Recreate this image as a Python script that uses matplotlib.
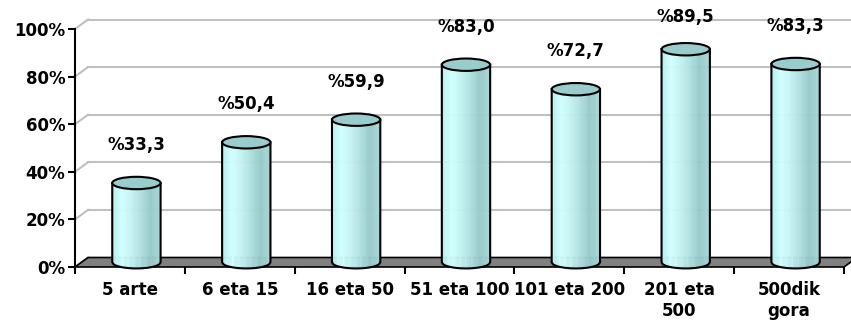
import numpy as np
import matplotlib
matplotlib.use("Agg")
import matplotlib.pyplot as plt
from matplotlib.transforms import Affine2D
from matplotlib.patches import Polygon, Ellipse
from matplotlib.colors import LinearSegmentedColormap

categories = ["5 arte", "6 eta 15", "16 eta 50", "51 eta 100", "101 eta 200", "201 eta\n500", "500dik\ngora"]
values = [33.3, 50.4, 59.9, 83.0, 72.7, 89.5, 83.3]
yticks = [0, 20, 40, 60, 80, 100]

plt.rcParams['font.family'] = ['DejaVu Sans']
fig = plt.figure(figsize=(8.51, 3.22), dpi=100)
ax = fig.add_axes([75/851, 55/322, 769/851, 238/322])
n = len(categories)
ax.set_xlim(0, n)
ax.set_ylim(0, 100)

DX, DY = 13.0, 9.5  # depth offset in pixels
full = ax.transData + Affine2D().translate(DX, DY)
mid = ax.transData + Affine2D().translate(DX / 2, DY / 2)

# back wall gridlines
for t in yticks:
    p0 = ax.transData.transform((0, t))
    ax.plot([p0[0], p0[0] + DX], [p0[1], p0[1] + DY], color="#C0C0C0", lw=1.5,
            transform=None, clip_on=False, zorder=1)
    ax.plot([0, n], [t, t], color="#C0C0C0", lw=1.5, transform=full,
            clip_on=False, zorder=1)

# floor
front = ax.transData.transform([(0, 0), (n, 0)])
floor_pts = [front[0], front[1], front[1] + [DX, DY], front[0] + [DX, DY]]
floor = Polygon(floor_pts, closed=True, facecolor="#808080", edgecolor="black",
                lw=1.2, transform=None, clip_on=False, zorder=2)
ax.add_patch(floor)

# cylinders
cmap = LinearSegmentedColormap.from_list(
    "cyl", ["#B8EEEE", "#D2FFFF", "#C4F2F2", "#B0E0E0", "#98CACA", "#A6D6D6"])
bw = 0.44
eh = 5.2  # ellipse height in data units
nstrip = 40
for i, v in enumerate(values):
    xc = i + 0.5
    xl, xr = xc - bw / 2, xc + bw / 2
    xs = np.linspace(xl, xr, nstrip + 1)
    yb = -eh / 2 * np.sqrt(np.clip(1 - ((xs - xc) / (bw / 2)) ** 2, 0, 1))
    for k in range(nstrip):
        c = cmap(k / (nstrip - 1))
        pts = [(xs[k], v), (xs[k], yb[k]), (xs[k + 1], yb[k + 1]), (xs[k + 1], v)]
        ax.add_patch(Polygon(pts, closed=True, facecolor=c, edgecolor=c, lw=0.4,
                             transform=mid, clip_on=False, zorder=3))
    ax.plot(np.concatenate([[xl], xs, [xr]]), np.concatenate([[v], yb, [v]]),
            color="black", lw=1.5, transform=mid, clip_on=False, zorder=4)
    ax.add_patch(Ellipse((xc, v), bw, eh, facecolor="#99CCCC", edgecolor="black",
                         lw=1.5, transform=mid, clip_on=False, zorder=5))
    ax.text(xc, min(v + 16, 103), "%" + f"{v:.1f}".replace(".", ","),
            transform=mid, ha="center", va="center", fontsize=12,
            fontweight="bold", clip_on=False, zorder=6)

# axes styling
for s in ["top", "right", "bottom"]:
    ax.spines[s].set_visible(False)
ax.spines["left"].set_linewidth(1.5)
ax.spines["left"].set_zorder(6)
ax.set_facecolor("none")
ax.set_yticks(yticks)
ax.set_yticklabels([f"{t}%" for t in yticks], fontsize=12, fontweight="bold")
ax.tick_params(axis="y", length=5, width=1.5, pad=2)
ax.set_xticks(np.arange(n + 1))
ax.set_xticklabels([])
ax.tick_params(axis="x", which="major", length=5, width=1.5)
ax.set_xticks(np.arange(n) + 0.5, minor=True)
ax.set_xticklabels(categories, minor=True, fontsize=12, fontweight="bold",
                   linespacing=1.2, va="top")
ax.tick_params(axis="x", which="minor", length=0, pad=10)

fig.savefig("out.png", dpi=100)
